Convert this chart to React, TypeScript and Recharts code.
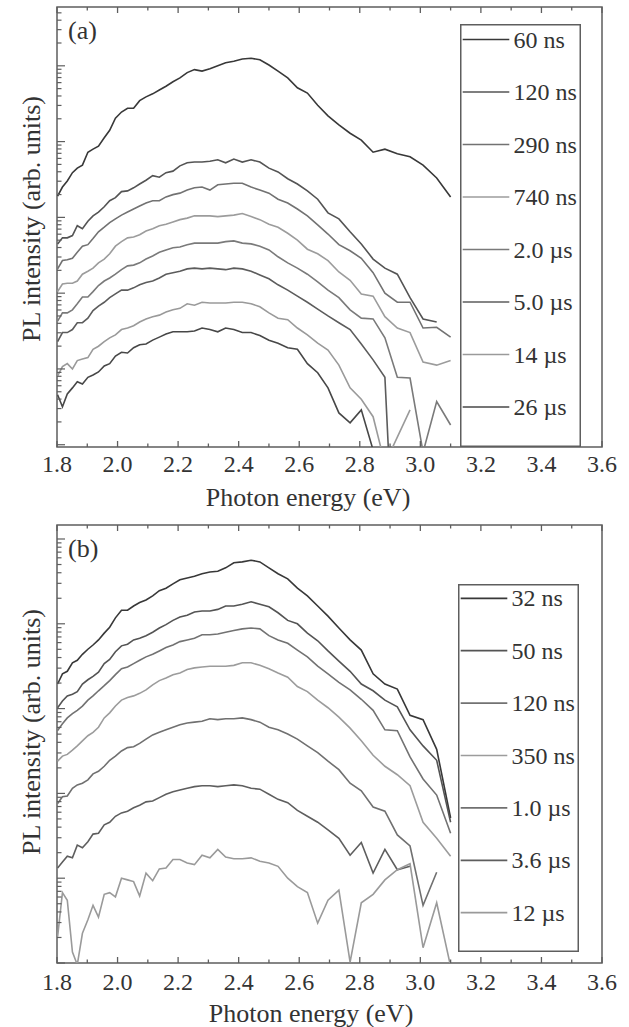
import React from 'react';
import { LineChart, Line, XAxis, YAxis, Legend, ReferenceArea } from 'recharts';

// Photon energy (eV) of each spectral point (common grid for every spectrum)
const energy = [
  1.802, 1.818, 1.834, 1.851, 1.867, 1.884, 1.902, 1.919, 1.937, 1.956, 1.974, 1.993, 2.013,
  2.033, 2.053, 2.073, 2.094, 2.116, 2.138, 2.16, 2.183, 2.206, 2.23, 2.254, 2.279, 2.305,
  2.331, 2.357, 2.384, 2.412, 2.441, 2.47, 2.5, 2.53, 2.562, 2.594, 2.627, 2.661, 2.695,
  2.731, 2.768, 2.805, 2.844, 2.883, 2.924, 2.966, 3.009, 3.054, 3.1,
];

const xTicks = [1.8, 1.9, 2.0, 2.1, 2.2, 2.3, 2.4, 2.5, 2.6, 2.7, 2.8, 2.9, 3.0, 3.1, 3.2, 3.3, 3.4, 3.5, 3.6];
const xTickLabels = ['1.8', '2.0', '2.2', '2.4', '2.6', '2.8', '3.0', '3.2', '3.4', '3.6'];

// log10 of PL intensity (arb. units)
// ---- panel (a)
const aNames = ['60 ns', '120 ns', '290 ns', '740 ns', '2.0 \u00B5s', '5.0 \u00B5s', '14 \u00B5s', '26 \u00B5s'];
const aColors = ['#383838', '#545454', '#727272', '#9c9c9c', '#7a7a7a', '#5c5c5c', '#9a9a9a', '#474747'];
const a60ns = [3.28, 3.40, 3.48, 3.59, 3.65, 3.69, 3.86, 3.90, 3.94, 4.05, 4.15, 4.31, 4.39, 4.44, 4.44, 4.54, 4.59, 4.63, 4.68, 4.73, 4.79, 4.84, 4.91, 4.95, 4.93, 4.96, 5.00, 5.04, 5.06, 5.09, 5.10, 5.08, 5.01, 4.93, 4.84, 4.71, 4.64, 4.48, 4.34, 4.22, 4.11, 4.02, 3.86, 3.90, 3.84, 3.80, 3.69, 3.52, 3.27];
const a120ns = [2.65, 2.73, 2.73, 2.76, 2.89, 2.85, 2.95, 3.02, 3.07, 3.14, 3.22, 3.26, 3.34, 3.35, 3.39, 3.44, 3.49, 3.55, 3.53, 3.59, 3.61, 3.68, 3.72, 3.73, 3.73, 3.74, 3.76, 3.72, 3.77, 3.73, 3.76, 3.73, 3.65, 3.60, 3.51, 3.44, 3.35, 3.24, 3.06, 2.98, 2.81, 2.65, 2.45, 2.33, 2.25, 1.94, 1.66, 1.62, null];
const a290ns = [2.32, 2.43, 2.44, 2.46, 2.54, 2.62, 2.64, 2.72, 2.81, 2.87, 2.93, 2.98, 3.03, 3.07, 3.11, 3.15, 3.19, 3.22, 3.22, 3.27, 3.30, 3.32, 3.36, 3.39, 3.40, 3.36, 3.43, 3.44, 3.45, 3.45, 3.40, 3.36, 3.32, 3.24, 3.19, 3.11, 3.02, 2.90, 2.78, 2.64, 2.56, 2.46, 2.27, 2.00, 1.88, 1.88, 1.54, 1.55, 1.42];
const a740ns = [2.02, 2.12, 2.13, 2.13, 2.16, 2.25, 2.29, 2.33, 2.40, 2.45, 2.52, 2.62, 2.68, 2.73, 2.74, 2.77, 2.82, 2.85, 2.89, 2.91, 2.94, 2.97, 2.99, 3.02, 3.02, 3.02, 3.01, 3.02, 3.03, 3.05, 3.01, 2.97, 2.91, 2.87, 2.79, 2.70, 2.58, 2.52, 2.43, 2.28, 2.17, 1.99, 1.96, 1.69, 1.54, 1.48, 1.09, 1.05, 1.11];
const a2us = [1.63, 1.74, 1.74, 1.78, 1.86, 1.95, 1.95, 2.02, 2.10, 2.16, 2.20, 2.25, 2.31, 2.36, 2.37, 2.40, 2.45, 2.49, 2.54, 2.57, 2.60, 2.61, 2.64, 2.66, 2.66, 2.66, 2.66, 2.68, 2.69, 2.66, 2.65, 2.62, 2.57, 2.48, 2.40, 2.33, 2.25, 2.15, 2.04, 1.94, 1.78, 1.67, 1.66, 1.41, 0.89, 0.88, -0.1, 0.57, 0.26];
const a5us = [1.36, 1.48, 1.48, 1.52, 1.61, 1.61, 1.67, 1.77, 1.83, 1.88, 1.94, 1.99, 2.04, 2.04, 2.07, 2.11, 2.14, 2.16, 2.20, 2.25, 2.27, 2.29, 2.32, 2.33, 2.32, 2.33, 2.32, 2.31, 2.33, 2.32, 2.29, 2.24, 2.19, 2.11, 2.04, 1.96, 1.88, 1.79, 1.70, 1.61, 1.52, 1.33, 1.12, 0.89, -2.5, null, null, null, null];
const a14us = [0.91, 1.03, 1.07, 1.00, 1.11, 1.13, 1.15, 1.26, 1.30, 1.36, 1.41, 1.45, 1.52, 1.54, 1.57, 1.62, 1.66, 1.69, 1.71, 1.75, 1.78, 1.80, 1.86, 1.84, 1.88, 1.87, 1.87, 1.87, 1.88, 1.88, 1.86, 1.82, 1.74, 1.67, 1.65, 1.54, 1.45, 1.34, 1.25, 1.05, 0.75, 0.60, 0.37, -0.25, 0.10, 0.46, null, null, null];
const a26us = [0.66, 0.50, 0.67, 0.75, 0.83, 0.80, 0.89, 0.92, 0.96, 1.04, 1.07, 1.17, 1.22, 1.21, 1.28, 1.32, 1.33, 1.38, 1.42, 1.46, 1.49, 1.49, 1.49, 1.50, 1.54, 1.52, 1.49, 1.54, 1.52, 1.48, 1.48, 1.44, 1.38, 1.34, 1.28, 1.26, 1.07, 0.95, 0.75, 0.42, 0.29, 0.46, -0.07, null, null, null, null, null, null];

// ---- panel (b)
const bNames = ['32 ns', '50 ns', '120 ns', '350 ns', '1.0 \u00B5s', '3.6 \u00B5s', '12 \u00B5s'];
const bColors = ['#383838', '#545454', '#727272', '#9c9c9c', '#707070', '#5e5e5e', '#9a9a9a'];
const b32ns = [3.29, 3.41, 3.44, 3.54, 3.57, 3.64, 3.70, 3.75, 3.81, 3.89, 3.96, 4.07, 4.16, 4.16, 4.21, 4.25, 4.28, 4.33, 4.39, 4.42, 4.47, 4.52, 4.54, 4.56, 4.59, 4.61, 4.62, 4.66, 4.72, 4.73, 4.75, 4.73, 4.66, 4.59, 4.53, 4.42, 4.33, 4.21, 4.09, 3.95, 3.81, 3.69, 3.41, 3.29, 3.23, 2.92, 2.87, 2.52, 1.71];
const b50ns = [3.01, 3.09, 3.15, 3.17, 3.20, 3.29, 3.34, 3.38, 3.43, 3.53, 3.58, 3.67, 3.74, 3.76, 3.81, 3.83, 3.86, 3.90, 3.95, 3.99, 4.04, 4.08, 4.10, 4.14, 4.15, 4.15, 4.17, 4.21, 4.21, 4.23, 4.26, 4.23, 4.20, 4.13, 4.04, 4.00, 3.89, 3.80, 3.68, 3.56, 3.44, 3.29, 3.21, 3.10, 3.02, 2.75, 2.56, 2.39, 1.66];
const b120ns = [2.74, 2.82, 2.89, 2.94, 2.98, 3.03, 3.10, 3.15, 3.21, 3.27, 3.33, 3.40, 3.47, 3.49, 3.53, 3.57, 3.61, 3.64, 3.68, 3.72, 3.75, 3.79, 3.81, 3.83, 3.87, 3.87, 3.88, 3.90, 3.92, 3.94, 3.95, 3.94, 3.86, 3.81, 3.77, 3.69, 3.61, 3.50, 3.41, 3.31, 3.22, 3.11, 2.98, 2.75, 2.74, 2.43, 2.17, 1.98, 1.53];
const b350ns = [2.38, 2.44, 2.46, 2.51, 2.56, 2.62, 2.68, 2.72, 2.78, 2.89, 2.95, 3.03, 3.10, 3.13, 3.15, 3.18, 3.22, 3.28, 3.33, 3.36, 3.40, 3.42, 3.46, 3.48, 3.49, 3.50, 3.50, 3.50, 3.51, 3.54, 3.54, 3.51, 3.47, 3.42, 3.37, 3.26, 3.20, 3.10, 3.01, 2.90, 2.77, 2.62, 2.45, 2.32, 2.22, 2.09, 1.66, 1.47, 1.26];
const b1us = [1.88, 1.96, 1.97, 2.06, 2.10, 2.12, 2.16, 2.23, 2.26, 2.32, 2.39, 2.44, 2.50, 2.54, 2.55, 2.59, 2.64, 2.69, 2.72, 2.75, 2.78, 2.81, 2.83, 2.84, 2.85, 2.88, 2.87, 2.88, 2.88, 2.89, 2.87, 2.84, 2.78, 2.75, 2.70, 2.64, 2.56, 2.48, 2.38, 2.28, 2.12, 2.03, 1.84, 1.79, 1.51, 1.38, 0.68, 1.07, null];
const b36us = [1.12, 1.19, 1.26, 1.24, 1.39, 1.36, 1.43, 1.52, 1.53, 1.63, 1.66, 1.73, 1.77, 1.79, 1.83, 1.86, 1.90, 1.91, 1.95, 1.99, 2.02, 2.04, 2.06, 2.08, 2.09, 2.09, 2.08, 2.09, 2.10, 2.09, 2.06, 2.05, 1.99, 1.93, 1.89, 1.80, 1.73, 1.66, 1.57, 1.47, 1.27, 1.42, 1.06, 1.34, 1.10, 1.14, null, null, null];
const b12us = [0.31, 0.83, 0.74, 0.13, -0.02, 0.35, 0.51, 0.68, 0.54, 0.81, 0.83, 0.78, 1.00, 0.98, 0.96, 0.79, 1.06, 0.97, 1.11, 1.12, 1.22, 1.22, 1.18, 1.16, 1.27, 1.24, 1.34, 1.25, 1.23, 1.23, 1.24, 1.20, 1.18, 1.14, 1.00, 0.90, 0.83, 0.47, 0.74, 0.86, 0.01, 0.71, 0.81, 0.98, 1.10, 1.17, 0.18, 0.71, -0.04];

const decades = [-1, 0, 1, 2, 3, 4, 5, 6];
const mantissas = [1, 2, 3, 4, 5, 6, 7, 8, 9];

const FONT = '"Liberation Serif", "Times New Roman", Times, serif';
const AXIS = '#5e5e5e';
const TEXT = '#333333';

type Series = { name: string; values: (number | null)[]; color: string };

function buildRows(series: Series[]) {
  return energy.map((e, i) => {
    const row: Record<string, number | null> = { e };
    series.forEach((s, k) => {
      row['s' + k] = s.values[i];
    });
    return row;
  });
}

function logTicks(min: number, max: number) {
  const out: number[] = [];
  decades.forEach((d) =>
    mantissas.forEach((m) => {
      const v = d + Math.log10(m);
      if (v >= min - 1e-9 && v <= max + 1e-9) out.push(v);
    })
  );
  return out;
}

const isMajorX = (v: number) => Math.round(v * 10) % 2 === 0;
const isDecade = (v: number) => Math.abs(v - Math.round(v)) < 1e-9;

type PanelProps = {
  tag: string;
  series: Series[];
  height: number;
  top: number;
  bottom: number;
  domain: [number, number];
  legend: { left: number; top: number; width: number; height: number; first: number; pitch: number };
  yLabelY: number;
  xLabelX: number;
  tickLabelDy: number;
};

const LEFT = 57;
const RIGHT = 602;
const WIDTH = 629;

function Panel(p: PanelProps) {
  const rows = buildRows(p.series);
  const yTicks = logTicks(p.domain[0], p.domain[1]);

  const BottomTick = (props: any) => {
    const v = props.payload.value as number;
    const major = isMajorX(v);
    const x = props.x;
    const len = major ? 6 : 3.5;
    return (
      <g>
        <line x1={x} x2={x} y1={p.bottom} y2={p.bottom - len} stroke={AXIS} strokeWidth={1.3} />
        <line x1={x} x2={x} y1={p.top} y2={p.top + len} stroke={AXIS} strokeWidth={1.3} />
        {major && xTickLabels.includes(v.toFixed(1)) ? (
          <text x={x} y={p.bottom + p.tickLabelDy} textAnchor="middle" fontSize={24} fill={TEXT} fontFamily={FONT}>
            {v.toFixed(1)}
          </text>
        ) : null}
      </g>
    );
  };
  const LeftTick = (props: any) => {
    const v = props.payload.value as number;
    const y = props.y;
    return <line x1={LEFT} x2={LEFT + (isDecade(v) ? 8 : 4.5)} y1={y} y2={y} stroke={AXIS} strokeWidth={1.2} />;
  };

  const XTitle = () => (
    <text x={p.xLabelX} y={p.bottom + 59} textAnchor="middle" fontSize={26} fill={TEXT} fontFamily={FONT}>
      Photon energy (eV)
    </text>
  );
  const YTitle = () => (
    <g>
      <text
        x={31}
        y={p.yLabelY}
        transform={`rotate(-90, 31, ${p.yLabelY})`}
        textAnchor="middle"
        dominantBaseline="central"
        fontSize={26}
        fill={TEXT}
        fontFamily={FONT}
      >
        PL intensity (arb. units)
      </text>
      <text x={68} y={p.top + 32} fontSize={26} fill={TEXT} fontFamily={FONT}>
        {p.tag}
      </text>
    </g>
  );

  const lg = p.legend;
  const LegendBox = () => (
    <svg width={lg.width} height={lg.height} style={{ display: 'block', overflow: 'visible' }}>
      <rect x={0.75} y={0.75} width={lg.width - 1.5} height={lg.height - 1.5} fill="#ffffff" stroke={AXIS} strokeWidth={1.5} />
      {p.series.map((s, i) => {
        const y = lg.first + i * lg.pitch;
        return (
          <g key={s.name}>
            <line x1={2.7} x2={49.3} y1={y} y2={y} stroke={s.color} strokeWidth={1.7} />
            <text x={53.5} y={y} dominantBaseline="central" fontSize={24} fill={TEXT} fontFamily={FONT}>
              {s.name}
            </text>
          </g>
        );
      })}
    </svg>
  );

  return (
    <LineChart
      width={WIDTH}
      height={p.height}
      data={rows}
      margin={{ top: p.top, left: LEFT - 1, right: WIDTH - RIGHT, bottom: p.height - p.bottom - 1 }}
      style={{ fontFamily: FONT }}
    >
      <XAxis
        dataKey="e"
        type="number"
        domain={[1.8, 3.6]}
        ticks={xTicks}
        interval={0}
        height={1}
        allowDataOverflow
        tickLine={false}
        axisLine={false}
        tick={BottomTick}
        label={<XTitle />}
      />
      <YAxis
        type="number"
        domain={p.domain}
        ticks={yTicks}
        interval={0}
        width={1}
        allowDataOverflow
        tickLine={false}
        axisLine={false}
        tick={LeftTick}
        label={<YTitle />}
      />
      <ReferenceArea
        x1={1.8}
        x2={3.6}
        y1={p.domain[0]}
        y2={p.domain[1]}
        fill="none"
        fillOpacity={0}
        stroke={AXIS}
        strokeWidth={1.5}
        ifOverflow="visible"
      />
      {p.series.map((s, k) => (
        <Line
          key={s.name}
          dataKey={'s' + k}
          name={s.name}
          type="linear"
          stroke={s.color}
          strokeWidth={1.6}
          dot={false}
          activeDot={false}
          connectNulls={false}
          isAnimationActive={false}
        />
      ))}
      <Legend
        layout="vertical"
        align="center"
        verticalAlign="middle"
        wrapperStyle={{ left: lg.left, top: lg.top, width: lg.width, height: lg.height }}
        content={LegendBox}
      />
    </LineChart>
  );
}

const seriesA: Series[] = [a60ns, a120ns, a290ns, a740ns, a2us, a5us, a14us, a26us].map((v, i) => ({
  name: aNames[i],
  values: v,
  color: aColors[i],
}));
const seriesB: Series[] = [b32ns, b50ns, b120ns, b350ns, b1us, b36us, b12us].map((v, i) => ({
  name: bNames[i],
  values: v,
  color: bColors[i],
}));

export default function App() {
  return (
    <div style={{ position: 'absolute', left: 0, top: 0, width: 629, height: 1027, background: '#fff' }}>
      <div style={{ position: 'absolute', left: 0, top: 0 }}>
        <Panel
          tag="(a)"
          series={seriesA}
          height={516}
          top={7}
          bottom={447}
          domain={[-0.03, 5.776]}
          legend={{ left: 460, top: 24, width: 121, height: 423, first: 15.5, pitch: 52.5 }}
          yLabelY={219}
          xLabelX={308}
          tickLabelDy={25}
        />
      </div>
      <div style={{ position: 'absolute', left: 0, top: 510 }}>
        <Panel
          tag="(b)"
          series={seriesB}
          height={517}
          top={15}
          bottom={453}
          domain={[0, 5.165]}
          legend={{ left: 458, top: 74, width: 121, height: 368, first: 14.3, pitch: 52.4 }}
          yLabelY={222}
          xLabelX={311}
          tickLabelDy={27}
        />
      </div>
    </div>
  );
}
